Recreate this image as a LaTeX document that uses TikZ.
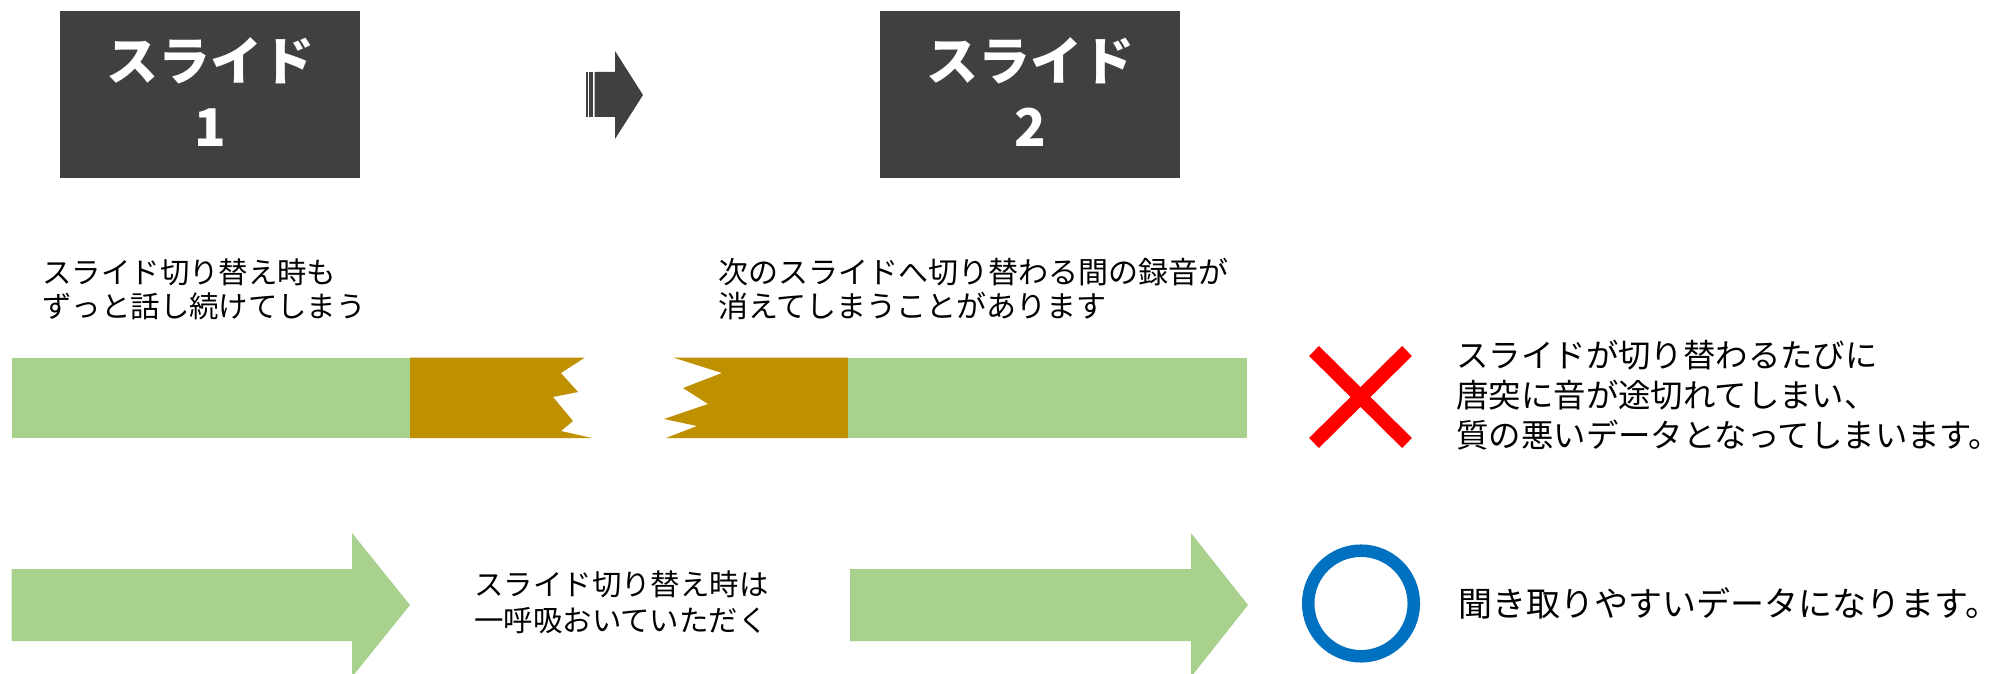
\documentclass[tikz,border=0pt]{standalone}
\usepackage{fontspec}
\setmainfont{Noto Sans CJK JP}
\definecolor{boxgray}{HTML}{404040}
\definecolor{bargreen}{HTML}{A9D18E}
\definecolor{barbrown}{HTML}{BF9000}
\definecolor{markred}{HTML}{FF0000}
\definecolor{markblue}{HTML}{0070C0}
\tikzset{
  slidebox/.style={fill=boxgray, draw=none},
  slidetext/.style={text=white, align=center, inner sep=0pt, font=\bfseries\fontsize{26pt}{33pt}\selectfont},
  note/.style={anchor=west, align=left, inner sep=0pt, text=black, font=\fontsize{15pt}{17pt}\selectfont},
  verdict/.style={anchor=west, align=left, inner sep=0pt, text=black, font=\fontsize{17pt}{20pt}\selectfont},
  greenfill/.style={fill=bargreen, draw=none},
  brownfill/.style={fill=barbrown, draw=none},
}
\begin{document}
\begin{tikzpicture}[x=0.5pt, y=-0.5pt]
\clip (0,0) rectangle (2009,674);
\fill[white] (0,0) rectangle (2009,674);

% slide boxes
\fill[slidebox] (60,11.5) rectangle (360,178);
\node[slidetext] (s1) at (210,92) {スライド\\1};
\fill[slidebox] (880,11.5) rectangle (1180,178);
\node[slidetext] (s2) at (1030,92) {スライド\\2};

% small striped arrow
\fill[boxgray] (594.7,72) -- (615,72) -- (615,51) -- (643,95) -- (615,139) -- (615,117) -- (594.7,117) -- cycle;
\fill[boxgray] (586,72) rectangle (588,117);
\fill[boxgray] (589.3,72) rectangle (592.7,117);

% captions
\node[note, font=\fontsize{14.7pt}{17pt}\selectfont] (c1) at (42,289) {スライド切り替え時も\\ずっと話し続けてしまう};
\node[note] (c2) at (718,289) {次のスライドへ切り替わる間の録音が\\消えてしまうことがあります};

% broken bar
\fill[greenfill] (11.5,357.5) rectangle (410,438);
\fill[brownfill] (410,357.5) -- (585,357.5) -- (561,373) -- (578,392) -- (553,397) -- (573,421) -- (561,431) -- (592,438) -- (410,438) -- cycle;
\fill[brownfill] (673,357.5) -- (848,357.5) -- (848,438) -- (666,438) -- (697,426) -- (664,419) -- (708,404) -- (683,388) -- (722,373) -- cycle;
\fill[greenfill] (848,357.5) rectangle (1247,438);

% red cross
\draw[markred, line width=7pt] (1314,351) -- (1407,443);
\draw[markred, line width=7pt] (1407,351) -- (1314,443);
\node[verdict, font=\fontsize{16.2pt}{20pt}\selectfont] (v1) at (1456,395) {スライドが切り替わるたびに\\唐突に音が途切れてしまい、\\質の悪いデータとなってしまいます。};

% green arrows
\fill[greenfill] (11.5,569) -- (352,569) -- (352,533) -- (410,605) -- (352,677) -- (352,641) -- (11.5,641) -- cycle;
\fill[greenfill] (850,569) -- (1191,569) -- (1191,533) -- (1248,605) -- (1191,677) -- (1191,641) -- (850,641) -- cycle;
\node[note, font=\fontsize{14.7pt}{18pt}\selectfont] (c3) at (474,602) {スライド切り替え時は\\一呼吸おいていただく};

% blue circle
\draw[markblue, line width=6.25pt] (1361,603.5) circle [radius=52.8];
\node[verdict] (v2) at (1458,603) {聞き取りやすいデータになります。};
\end{tikzpicture}
\end{document}
